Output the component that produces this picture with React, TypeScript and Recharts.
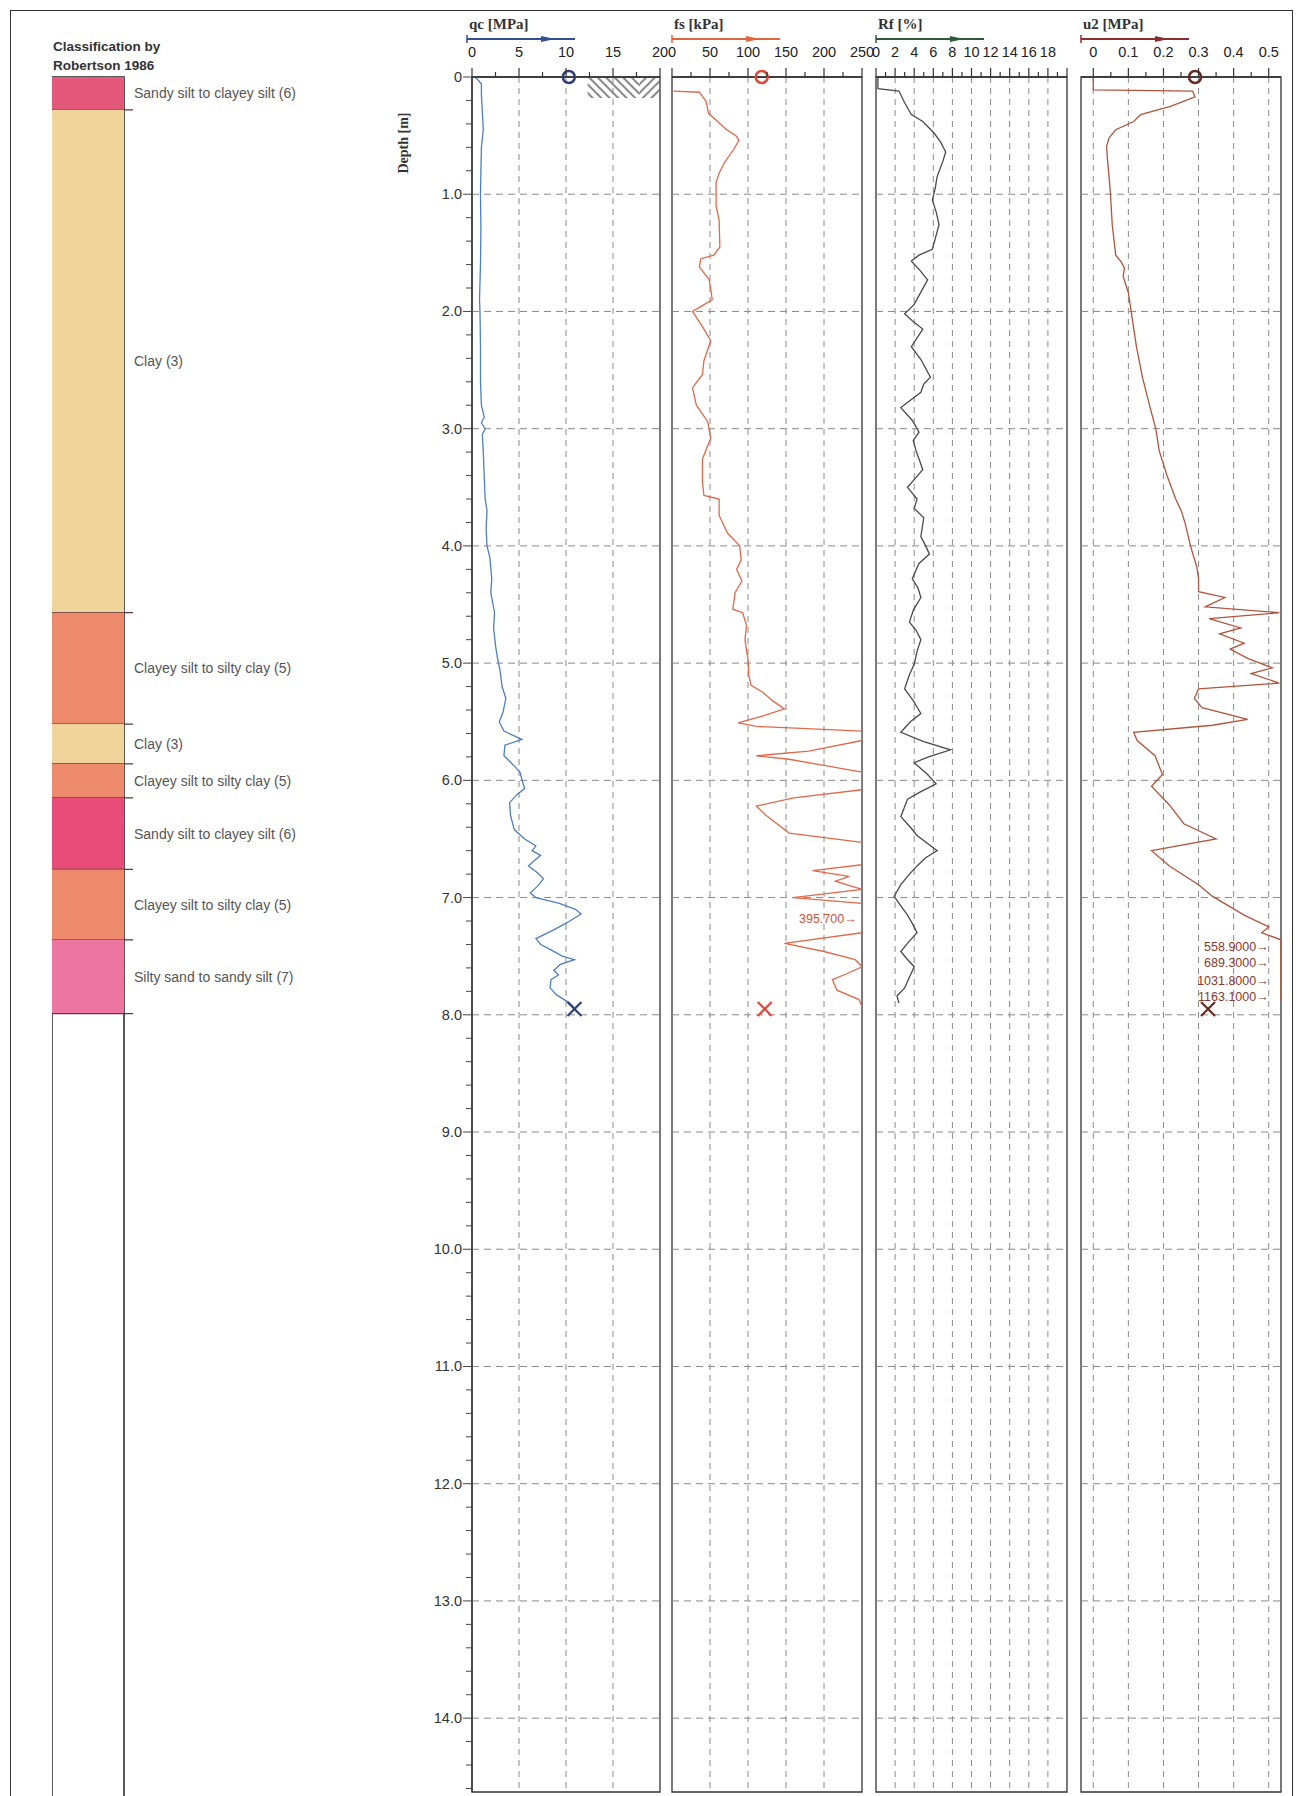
import React from 'react'
import {
  Bar,
  BarChart,
  Line,
  LineChart,
  ReferenceArea,
  ReferenceDot,
  ReferenceLine,
  XAxis,
  YAxis,
} from 'recharts'

const NARROW = "'Liberation Sans Narrow', 'Liberation Sans', Arial, sans-serif"
const SANS = "'Liberation Sans', Arial, sans-serif"
const SERIF = "'Liberation Serif', 'Times New Roman', serif"

const PAGE_W = 1297
const PAGE_H = 1796
const PLOT_TOP = 77
const PLOT_BOTTOM = 1792
const DEPTH_MAX = 14.63

// depth axis
const depthLabels = [0, 1, 2, 3, 4, 5, 6, 7, 8, 9, 10, 11, 12, 13, 14]
const depthMinor = Array.from({ length: 74 }, (_, i) => Math.round(i * 2) / 10)

// Robertson 1986 classification layers (bottom depth of each layer, m)
const layerNames = [
  'Sandy silt to clayey silt (6)',
  'Clay (3)',
  'Clayey silt to silty clay (5)',
  'Clay (3)',
  'Clayey silt to silty clay (5)',
  'Sandy silt to clayey silt (6)',
  'Clayey silt to silty clay (5)',
  'Silty sand to sandy silt (7)',
]
const layerBottoms = [0.28, 4.57, 5.52, 5.86, 6.15, 6.76, 7.36, 7.99]
const layerColors = ['#e4587c', '#efd49c', '#ee8a6c', '#efd49c', '#ee8a6c', '#e94c78', '#ee8a6c', '#ec76a0']

// qc [MPa] vs depth [m]
const qcProfile: [number, number][] = [
  [0.0, 0.3], [0.03, 0.7], [0.06, 1.0], [0.15, 1.0], [0.3, 1.1], [0.45, 1.2], [0.6, 1.0], [0.8, 0.95],
  [1.0, 0.9], [1.3, 0.95], [1.6, 0.9], [1.9, 0.8], [2.0, 0.85], [2.3, 0.9], [2.6, 0.9], [2.8, 1.0],
  [2.9, 1.3], [2.95, 1.0], [3.0, 1.4], [3.05, 1.1], [3.2, 1.2], [3.4, 1.3], [3.6, 1.4], [3.7, 1.6],
  [3.85, 1.5], [4.0, 1.6], [4.1, 1.9], [4.28, 2.1], [4.4, 2.0], [4.57, 2.4], [4.7, 2.3], [4.85, 2.5],
  [4.95, 2.7], [5.07, 3.0], [5.2, 3.2], [5.3, 3.6], [5.42, 3.3], [5.5, 2.9], [5.58, 3.4], [5.65, 5.3],
  [5.7, 3.5], [5.79, 3.4], [5.87, 4.4], [5.93, 5.1], [6.02, 5.4], [6.07, 5.6], [6.12, 4.8], [6.19, 4.0],
  [6.3, 4.1], [6.42, 4.5], [6.5, 5.6], [6.56, 6.8], [6.6, 6.4], [6.64, 7.3], [6.7, 6.4], [6.73, 6.0],
  [6.79, 7.0], [6.84, 7.6], [6.9, 7.0], [6.96, 6.2], [7.0, 6.8], [7.05, 9.3], [7.1, 11.0], [7.14, 11.6],
  [7.21, 10.2], [7.28, 8.6], [7.35, 6.8], [7.4, 7.3], [7.45, 8.5], [7.5, 9.6], [7.53, 10.9], [7.57, 9.4],
  [7.62, 8.7], [7.66, 9.2], [7.7, 8.4], [7.77, 8.3], [7.83, 9.0], [7.9, 10.4], [7.95, 11.0],
]

// fs [kPa]
const fsProfile: [number, number][] = [
  [0.12, 2], [0.13, 36], [0.21, 45], [0.31, 48], [0.38, 60], [0.45, 72], [0.5, 84], [0.54, 88],
  [0.61, 82], [0.73, 69], [0.82, 62], [0.9, 58], [1.1, 58], [1.22, 62], [1.45, 63], [1.52, 55],
  [1.55, 38], [1.62, 36], [1.73, 49], [1.9, 53], [1.95, 40], [2.0, 27], [2.13, 40], [2.25, 51],
  [2.42, 42], [2.54, 40], [2.65, 27], [2.8, 32], [2.94, 47], [3.08, 51], [3.26, 40], [3.45, 40],
  [3.57, 42], [3.6, 62], [3.74, 62], [3.89, 73], [4.0, 89], [4.12, 91], [4.2, 85], [4.3, 92],
  [4.4, 83], [4.54, 80], [4.57, 93], [4.68, 98], [4.8, 96], [4.97, 100], [5.1, 101], [5.19, 104],
  [5.25, 120], [5.32, 132], [5.39, 148], [5.45, 120], [5.51, 87], [5.54, 111], [5.58, 250], [5.66, 250],
  [5.75, 180], [5.79, 111], [5.82, 154], [5.93, 250], [6.08, 250], [6.15, 160], [6.22, 111], [6.3, 124],
  [6.45, 154], [6.53, 250], [6.72, 250], [6.77, 185], [6.82, 233], [6.86, 215], [6.93, 250], [7.0, 159],
  [7.05, 250], [7.3, 250], [7.39, 148], [7.46, 200], [7.53, 241], [7.59, 250], [7.65, 230], [7.7, 211],
  [7.79, 217], [7.87, 246], [7.93, 250],
]

// Rf [%]
const rfProfile: [number, number][] = [
  [0.0, 0.2], [0.1, 0.2], [0.12, 2.4], [0.22, 3.0], [0.32, 3.7], [0.38, 4.9], [0.48, 6.1], [0.56, 6.8],
  [0.64, 7.3], [0.72, 7.0], [0.85, 6.4], [0.95, 6.2], [1.05, 5.9], [1.15, 6.3], [1.26, 6.6], [1.38, 6.2],
  [1.47, 5.9], [1.52, 4.5], [1.57, 3.7], [1.65, 4.6], [1.73, 5.4], [1.85, 4.6], [1.94, 4.0], [2.02, 3.0],
  [2.08, 3.8], [2.15, 4.9], [2.3, 3.7], [2.41, 4.7], [2.56, 5.7], [2.62, 5.0], [2.69, 4.7], [2.82, 2.6],
  [2.93, 3.8], [3.03, 4.5], [3.1, 3.9], [3.19, 4.2], [3.28, 4.6], [3.35, 4.9], [3.5, 3.3], [3.6, 4.3],
  [3.68, 4.0], [3.76, 5.0], [3.92, 4.7], [4.0, 5.2], [4.07, 5.6], [4.15, 4.5], [4.28, 3.8], [4.36, 4.4],
  [4.44, 4.7], [4.55, 3.9], [4.65, 3.5], [4.72, 4.2], [4.8, 4.7], [4.9, 4.3], [5.01, 4.0], [5.1, 3.5],
  [5.22, 3.0], [5.32, 3.9], [5.43, 4.7], [5.5, 3.6], [5.59, 2.6], [5.67, 5.0], [5.74, 7.8], [5.8, 5.5],
  [5.85, 4.0], [5.95, 5.4], [6.03, 6.3], [6.1, 4.6], [6.16, 3.3], [6.31, 2.6], [6.4, 3.6], [6.47, 4.3],
  [6.6, 6.4], [6.66, 5.2], [6.73, 4.3], [6.8, 3.5], [6.89, 2.6], [6.99, 1.9], [7.07, 2.6], [7.15, 3.3],
  [7.22, 3.8], [7.3, 4.3], [7.38, 3.4], [7.46, 2.6], [7.52, 3.2], [7.59, 4.0], [7.68, 3.5], [7.77, 3.0],
  [7.84, 2.2], [7.9, 2.4],
]

// u2 [MPa]
const u2Profile: [number, number][] = [
  [0, 0], [0.11, 0], [0.12, 0.283], [0.17, 0.29], [0.25, 0.22], [0.32, 0.135], [0.38, 0.115], [0.45, 0.064],
  [0.52, 0.045], [0.59, 0.038], [0.69, 0.04], [0.85, 0.045], [1.0, 0.049], [1.26, 0.054], [1.52, 0.064],
  [1.58, 0.08], [1.63, 0.089], [1.7, 0.085], [1.84, 0.1], [2.0, 0.108], [2.3, 0.123], [2.56, 0.14],
  [2.82, 0.162], [3.0, 0.178], [3.19, 0.188], [3.4, 0.21], [3.6, 0.235], [3.71, 0.252], [3.81, 0.262],
  [4.01, 0.278], [4.18, 0.295], [4.28, 0.3], [4.39, 0.3], [4.44, 0.375], [4.52, 0.319], [4.57, 0.53],
  [4.62, 0.33], [4.7, 0.42], [4.75, 0.36], [4.83, 0.43], [4.88, 0.39], [4.96, 0.44], [5.04, 0.51],
  [5.09, 0.45], [5.17, 0.53], [5.22, 0.3], [5.3, 0.288], [5.38, 0.31], [5.48, 0.44], [5.53, 0.34],
  [5.59, 0.115], [5.66, 0.125], [5.79, 0.176], [5.95, 0.197], [6.05, 0.166], [6.21, 0.217], [6.37, 0.258],
  [6.5, 0.35], [6.6, 0.166], [6.73, 0.217], [6.89, 0.3], [6.99, 0.34], [7.15, 0.43], [7.25, 0.5],
  [7.3, 0.48], [7.36, 0.535], [7.88, 0.535],
]

// axis ticks
const qcTicks = [0, 2.5, 5, 7.5, 10, 12.5, 15, 17.5, 20]
const qcLabels = [0, 5, 10, 15, 20]
const qcGrid = [5, 10, 15]
const fsTicks = [0, 25, 50, 75, 100, 125, 150, 175, 200, 225, 250]
const fsLabels = [0, 50, 100, 150, 200, 250]
const fsGrid = [50, 100, 150, 200]
const rfTicks = [0, 1, 2, 3, 4, 5, 6, 7, 8, 9, 10, 11, 12, 13, 14, 15, 16, 17, 18, 19, 20]
const rfLabels = [0, 2, 4, 6, 8, 10, 12, 14, 16, 18]
const rfMajor = [0, 2, 4, 6, 8, 10, 12, 14, 16, 18, 20]
const rfGrid = [2, 4, 6, 8, 10, 12, 14, 16, 18]
const u2Ticks = [0, 0.05, 0.1, 0.15, 0.2, 0.25, 0.3, 0.35, 0.4, 0.45, 0.5]
const u2Labels = [0, 0.1, 0.2, 0.3, 0.4, 0.5]
const u2Grid = [0, 0.1, 0.2, 0.3, 0.4, 0.5]

// start / end markers
const markerDepths = [0, 7.95]
const qcMarkers = [10.3, 10.9]
const fsMarkers = [118, 122]
const u2Markers = [0.29, 0.327]

// off-scale value labels
const fsOverLabels = ['395.700']
const fsOverDepths = [7.18]
const u2OverLabels = ['558.9000', '689.3000', '1031.8000', '1163.1000']
const u2OverDepths = [7.42, 7.56, 7.71, 7.85]

const has = (arr: number[], v: number) => arr.some((a) => Math.abs(a - v) < 1e-6)

function topTick(majors: number[], labels: number[]) {
  return (p: any) => {
    const v = p.payload.value
    const major = has(majors, v)
    return (
      <g>
        <line x1={p.x} x2={p.x} y1={PLOT_TOP} y2={PLOT_TOP - (major ? 9 : 5)} stroke="#333" strokeWidth={1.2} />
        {has(labels, v) && (
          <text x={p.x} y={57} textAnchor="middle" fontSize={14.5} fontFamily={NARROW} fill="#222">
            {String(v)}
          </text>
        )}
      </g>
    )
  }
}

function depthTick(axisX: number) {
  return (p: any) => {
    const v = p.payload.value
    const major = has(depthLabels, v)
    return (
      <g>
        <line x1={axisX - (major ? 9 : 6)} x2={axisX} y1={p.y} y2={p.y} stroke="#444" strokeWidth={1} />
        {major && (
          <text x={axisX - 10} y={p.y + 5} textAnchor="end" fontSize={14.5} fontFamily={NARROW} fill="#333">
            {v === 0 ? '0' : v.toFixed(1)}
          </text>
        )}
      </g>
    )
  }
}

function Cross({ cx, cy, color }: { cx: number; cy: number; color: string }) {
  const s = 7
  return (
    <g stroke={color} strokeWidth={2.2}>
      <line x1={cx - s} y1={cy - s} x2={cx + s} y2={cy + s} />
      <line x1={cx - s} y1={cy + s} x2={cx + s} y2={cy - s} />
    </g>
  )
}

interface PanelProps {
  left: number
  marginLeft: number
  plotWidth: number
  marginRight: number
  domain: [number, number]
  ticks: number[]
  majors: number[]
  labels: number[]
  gridX: number[]
  profile: [number, number][]
  color: string
  depthAxis?: boolean
  children?: React.ReactNode
}

function Panel(props: PanelProps) {
  const { left, marginLeft, plotWidth, marginRight, domain, ticks, majors, labels, gridX, profile, color, depthAxis, children } = props
  const yw = depthAxis ? 72 : 0
  const width = marginLeft + yw + plotWidth + marginRight
  const rows = profile.map(([d, v]) => ({ d, v }))
  return (
    <div style={{ position: 'absolute', left, top: 0 }}>
      <LineChart
        width={width}
        height={PAGE_H}
        layout="vertical"
        data={rows}
        margin={{ top: PLOT_TOP - 40, right: marginRight, bottom: PAGE_H - PLOT_BOTTOM, left: marginLeft }}
      >
        <XAxis
          type="number"
          orientation="top"
          domain={domain}
          ticks={ticks}
          interval={0}
          allowDataOverflow
          height={40}
          axisLine={{ stroke: '#333', strokeWidth: 1.3 }}
          tickLine={false}
          tick={topTick(majors, labels)}
        />
        {depthAxis ? (
          <YAxis
            type="number"
            dataKey="d"
            domain={[0, DEPTH_MAX]}
            ticks={depthMinor}
            interval={0}
            allowDataOverflow
            width={yw}
            axisLine={{ stroke: '#333', strokeWidth: 1.3 }}
            tickLine={false}
            tick={depthTick(marginLeft + yw)}
          />
        ) : (
          <YAxis type="number" dataKey="d" domain={[0, DEPTH_MAX]} allowDataOverflow hide />
        )}
        {gridX.map((v) => (
          <ReferenceLine key={`gx${v}`} x={v} stroke="#8a8a8a" strokeDasharray="6 5" strokeWidth={1} />
        ))}
        {depthLabels.slice(1).map((d) => (
          <ReferenceLine key={`gy${d}`} y={d} stroke="#8a8a8a" strokeDasharray="7 5" strokeWidth={1} />
        ))}
        <ReferenceArea x1={domain[0]} x2={domain[1]} y1={0} y2={DEPTH_MAX} fill="none" stroke="#333" strokeWidth={1.3} />
        {children}
        <Line dataKey="v" stroke={color} strokeWidth={1.3} dot={false} isAnimationActive={false} />
      </LineChart>
    </div>
  )
}

function ClassColumn() {
  const row: Record<string, number | string> = { name: 'col' }
  layerBottoms.forEach((b, i) => {
    row[`l${i}`] = b - (i === 0 ? 0 : layerBottoms[i - 1])
  })
  return (
    <div style={{ position: 'absolute', left: 52, top: 0 }}>
      <BarChart
        width={340}
        height={PAGE_H}
        data={[row]}
        barCategoryGap={0}
        barGap={0}
        margin={{ top: PLOT_TOP, right: 268, bottom: PAGE_H - PLOT_BOTTOM, left: 0 }}
      >
        <XAxis dataKey="name" hide />
        <YAxis type="number" domain={[0, DEPTH_MAX]} reversed allowDataOverflow hide />
        {layerNames.map((n, i) => (
          <Bar
            key={i}
            dataKey={`l${i}`}
            stackId="s"
            fill={layerColors[i]}
            isAnimationActive={false}
            shape={(p: any) => {
              const top = Math.min(p.y, p.y + p.height)
              const h = Math.abs(p.height)
              return (
                <g>
                  <rect x={p.x} y={top} width={p.width} height={h} fill={layerColors[i]} />
                  <line x1={p.x} x2={p.x + p.width + 9} y1={top + h} y2={top + h} stroke="#5a3a3a" strokeWidth={1.2} />
                </g>
              )
            }}
            label={(p: any) => (
              <text
                x={p.x + p.width + 10}
                y={p.y + p.height / 2 + 5}
                fontSize={14}
                fontFamily={SANS}
                fill="#555"
              >
                {n}
              </text>
            )}
          />
        ))}
        <ReferenceArea y1={0} y2={15} ifOverflow="visible" fill="none" stroke="#222" strokeWidth={1.5} />
      </BarChart>
    </div>
  )
}

const headerTitles = ['qc [MPa]', 'fs [kPa]', 'Rf [%]', 'u2 [MPa]']
const headerColors = ['#2f4f8f', '#e0663e', '#2e5a3a', '#8a2f2f']
const headerLeft = [467, 672, 876, 1081]

function Header() {
  return (
    <svg width={PAGE_W} height={200} style={{ position: 'absolute', left: 0, top: 0, pointerEvents: 'none' }}>
      <defs>
        <pattern id="hatchBack" width="6" height="6" patternUnits="userSpaceOnUse" patternTransform="rotate(-45)">
          <line x1="1" y1="0" x2="1" y2="6" stroke="#6a6a6a" strokeWidth="1.6" />
        </pattern>
        <pattern id="hatchFwd" width="6" height="6" patternUnits="userSpaceOnUse" patternTransform="rotate(45)">
          <line x1="1" y1="0" x2="1" y2="6" stroke="#6a6a6a" strokeWidth="1.6" />
        </pattern>
      </defs>
      <text x={53} y={51} fontSize={13.5} fontWeight="bold" fontFamily={SANS} fill="#333">Classification by</text>
      <text x={53} y={70} fontSize={13.5} fontWeight="bold" fontFamily={SANS} fill="#333">Robertson 1986</text>
      <text
        x={0}
        y={0}
        transform="translate(408 143) rotate(-90)"
        textAnchor="middle"
        fontSize={14}
        fontWeight="bold"
        fontFamily={SERIF}
        fill="#333"
      >
        Depth [m]
      </text>
      {headerTitles.map((t, i) => {
        const x0 = headerLeft[i]
        const ax = x0 + 84
        return (
          <g key={t}>
            <text x={x0 + 2} y={29} fontSize={15} fontWeight="bold" fontFamily={SERIF} fill="#333">{t}</text>
            <line x1={x0} x2={x0 + 108} y1={39} y2={39} stroke={headerColors[i]} strokeWidth={2} />
            <line x1={x0} x2={x0} y1={35} y2={43} stroke={headerColors[i]} strokeWidth={1.5} />
            <polygon points={`${ax - 10},${36} ${ax + 4},${39} ${ax - 10},${42}`} fill={headerColors[i]} />
          </g>
        )
      })}
    </svg>
  )
}

export default function App() {
  return (
    <div style={{ position: 'absolute', left: 0, top: 0, width: PAGE_W, height: PAGE_H, overflow: 'hidden', background: '#fff' }}>
      <div
        style={{
          position: 'absolute',
          left: 10,
          top: 10,
          width: 1283,
          height: PAGE_H + 20,
          border: '1.5px solid #333',
          boxSizing: 'border-box',
        }}
      />
      <ClassColumn />
      <Panel
        left={400}
        marginLeft={0}
        plotWidth={188}
        marginRight={14}
        domain={[0, 20]}
        ticks={qcTicks}
        majors={qcLabels}
        labels={qcLabels}
        gridX={qcGrid}
        profile={qcProfile}
        color="#4f7fbf"
        depthAxis
      >
        <ReferenceArea x1={12.3} x2={17.8} y1={0} y2={0.18} fill="url(#hatchBack)" fillOpacity={1} stroke="none" />
        <ReferenceArea x1={17.8} x2={20} y1={0} y2={0.18} fill="url(#hatchFwd)" fillOpacity={1} stroke="none" />
        <ReferenceDot x={qcMarkers[0]} y={markerDepths[0]} r={6} fill="none" stroke="#2b3f7a" strokeWidth={2.5} ifOverflow="visible" />
        <ReferenceDot
          x={qcMarkers[1]}
          y={markerDepths[1]}
          r={7}
          ifOverflow="visible"
          shape={(p: any) => <Cross cx={p.cx} cy={p.cy} color="#2b3f7a" />}
        />
      </Panel>
      <Panel
        left={662}
        marginLeft={10}
        plotWidth={190}
        marginRight={14}
        domain={[0, 250]}
        ticks={fsTicks}
        majors={fsLabels}
        labels={fsLabels}
        gridX={fsGrid}
        profile={fsProfile}
        color="#e0694a"
      >
        <ReferenceDot x={fsMarkers[0]} y={markerDepths[0]} r={6} fill="none" stroke="#e0463a" strokeWidth={2.5} ifOverflow="visible" />
        <ReferenceDot
          x={fsMarkers[1]}
          y={markerDepths[1]}
          r={7}
          ifOverflow="visible"
          shape={(p: any) => <Cross cx={p.cx} cy={p.cy} color="#e0463a" />}
        />
        {fsOverLabels.map((t, i) => (
          <ReferenceDot
            key={t}
            x={243}
            y={fsOverDepths[i]}
            r={1}
            ifOverflow="visible"
            shape={(p: any) => (
              <text x={p.cx} y={p.cy + 4} textAnchor="end" fontSize={12.5} fontFamily={SANS} fill="#c9553f">
                {`${t}\u2192`}
              </text>
            )}
          />
        ))}
      </Panel>
      <Panel
        left={866}
        marginLeft={10}
        plotWidth={191}
        marginRight={14}
        domain={[0, 20]}
        ticks={rfTicks}
        majors={rfMajor}
        labels={rfLabels}
        gridX={rfGrid}
        profile={rfProfile}
        color="#4a4a4a"
      />
      <Panel
        left={1071}
        marginLeft={10}
        plotWidth={200}
        marginRight={12}
        domain={[-0.035, 0.535]}
        ticks={u2Ticks}
        majors={u2Labels}
        labels={u2Labels}
        gridX={u2Grid}
        profile={u2Profile}
        color="#b0553d"
      >
        <ReferenceDot x={u2Markers[0]} y={markerDepths[0]} r={6} fill="none" stroke="#6a2a22" strokeWidth={2.5} ifOverflow="visible" />
        <ReferenceDot
          x={u2Markers[1]}
          y={markerDepths[1]}
          r={7}
          ifOverflow="visible"
          shape={(p: any) => <Cross cx={p.cx} cy={p.cy} color="#6a2a22" />}
        />
        {u2OverLabels.map((t, i) => (
          <ReferenceDot
            key={t}
            x={0.5}
            y={u2OverDepths[i]}
            r={1}
            ifOverflow="visible"
            shape={(p: any) => (
              <text x={p.cx} y={p.cy + 4} textAnchor="end" fontSize={12.5} fontFamily={SANS} fill="#8a3a2a">
                {`${t}\u2192`}
              </text>
            )}
          />
        ))}
      </Panel>
      <Header />
    </div>
  )
}
